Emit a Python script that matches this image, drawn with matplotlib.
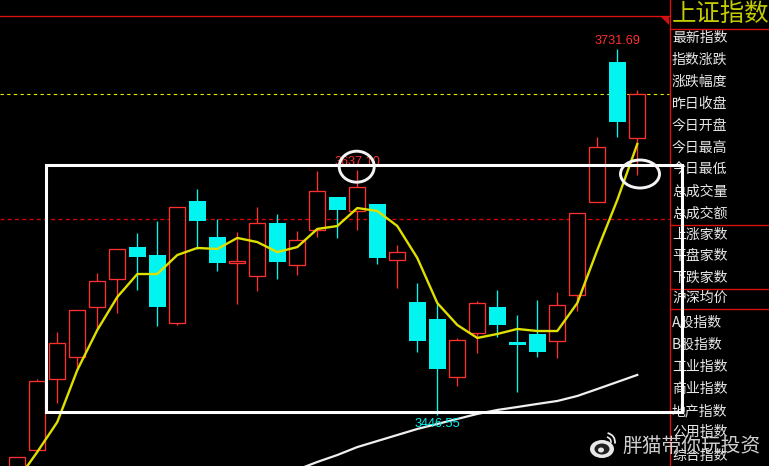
import matplotlib
matplotlib.use("Agg")
import matplotlib.pyplot as plt
from matplotlib.patches import Rectangle, Ellipse, Arc, Polygon

plt.rcParams['font.family'] = ['Noto Sans CJK SC', 'DejaVu Sans']

# candles, oldest first
opens = [3380.0, 3419.3, 3474.6, 3491.8, 3530.7, 3552.5, 3577.4, 3571.2, 3518.2, 3613.3, 3585.2,
         3565.0, 3554.9, 3596.1, 3563.4, 3590.7, 3616.4, 3605.5, 3610.9, 3567.3, 3534.6, 3521.4,
         3476.2, 3510.5, 3530.7, 3503.4, 3509.7, 3504.2, 3540.0, 3612.5, 3721.6, 3662.4]
closes = [3413.9, 3473.1, 3502.7, 3528.4, 3550.9, 3575.9, 3569.7, 3530.7, 3608.6, 3597.7, 3565.0,
          3566.5, 3596.1, 3565.8, 3582.9, 3621.1, 3606.3, 3624.2, 3568.9, 3573.5, 3504.2, 3482.4,
          3505.0, 3533.8, 3516.7, 3501.1, 3495.7, 3532.3, 3603.9, 3655.3, 3674.8, 3696.6]
highs = [3413.9, 3474.6, 3511.2, 3528.4, 3557.2, 3575.9, 3588.4, 3597.7, 3608.6, 3622.6, 3599.3,
         3589.1, 3608.6, 3603.1, 3589.9, 3636.6, 3616.4, 3637.1, 3610.9, 3579.0, 3549.4, 3533.8,
         3506.6, 3535.4, 3544.0, 3524.5, 3536.2, 3542.4, 3603.9, 3663.1, 3731.69, 3699.8]
lows = [3380.0, 3419.3, 3455.9, 3484.0, 3514.4, 3526.0, 3544.0, 3515.9, 3516.7, 3575.9, 3558.8,
        3533.0, 3543.2, 3552.5, 3555.6, 3585.2, 3584.5, 3590.7, 3564.2, 3545.5, 3495.7, 3446.55,
        3469.2, 3494.9, 3507.3, 3464.5, 3491.8, 3491.0, 3527.6, 3612.5, 3663.1, 3633.5]

# moving averages
ma_short = [3395.9, 3417.8, 3441.1, 3481.6, 3512.8, 3538.5, 3556.4, 3556.4, 3571.2, 3576.7, 3575.9,
            3584.5, 3581.3, 3573.5, 3577.4, 3591.5, 3593.8, 3607.8, 3605.5, 3593.8, 3568.9, 3533.8,
            3516.7, 3506.6, 3509.7, 3513.6, 3512.0, 3512.0, 3533.8, 3575.1, 3614.1, 3657.7]
ma_long = [3404.0, 3410.0, 3415.4, 3421.6, 3426.3, 3431.0, 3435.7, 3439.6, 3443.5, 3447.4, 3450.5,
           3452.8, 3455.2, 3457.5, 3461.4, 3466.8, 3472.3, 3477.8]
ma_long_start = 14

prev_close = 3696.6
mid_level = 3599.5

panel_title = "上证指数"
panel_labels = ["最新指数", "指数涨跌", "涨跌幅度", "昨日收盘", "今日开盘", "今日最高", "今日最低",
                "总成交量", "总成交额", "上涨家数", "平盘家数", "下跌家数", "沪深均价", "A股指数",
                "B股指数", "工业指数", "商业指数", "地产指数", "公用指数", "综合指数"]
panel_y = [38, 60, 82, 104, 126, 148, 170, 192, 214, 235, 256, 278, 298, 323, 345, 367, 389, 411, 432, 456]

RED = "#ff3030"
CYAN = "#00f5f0"
THIN = 0.95

fig = plt.figure(figsize=(7.69, 4.66), dpi=100, facecolor="black")

# price axes, fills the whole picture
ax = fig.add_axes([0, 0, 1, 1])
ax.set_facecolor("black")
ax.set_xlim(-0.865, 37.585)
ax.set_ylim(3406.85, 3769.86)
ax.axis("off")

# reference lines
last_x = (669 - 17.3) / 20
ax.plot([-0.865, last_x], [prev_close, prev_close], color="#e8e800", lw=0.8, ls=(0, (3, 3)), zorder=1)
ax.plot([-0.865, last_x], [mid_level, mid_level], color="#e00000", lw=THIN, ls=(0, (3, 2.5)), zorder=1)

# candles
for i in range(len(opens)):
    up = closes[i] >= opens[i]
    color = RED if up else CYAN
    ax.vlines(i, lows[i], highs[i], color=color, lw=THIN, zorder=2)
    bottom = min(opens[i], closes[i])
    height = abs(closes[i] - opens[i])
    if up:
        ax.bar(i, height, 0.8, bottom=bottom, facecolor="black", edgecolor=color, lw=THIN, zorder=3)
    else:
        ax.bar(i, height, 0.84, bottom=bottom, color=color, lw=0, zorder=3)

ax.plot(range(len(ma_short)), ma_short, color="#e0e000", lw=1.7, zorder=4)
ax.plot(range(ma_long_start, ma_long_start + len(ma_long)), ma_long, color="#f0f0f0", lw=1.6, zorder=4)

# extreme values
ax.text(30, 3731.69 + 6, "3731.69", color=RED, fontsize=9.2, family="Liberation Sans", ha="center", va="center", zorder=5)
ax.text(17, 3637.1 + 6.5, "3637.10", color=RED, fontsize=9.2, family="Liberation Sans", ha="center", va="center", zorder=5)
ax.text(21, 3446.55 - 7, "3446.55", color=CYAN, fontsize=9.2, family="Liberation Sans", ha="center", va="center", zorder=5)

# overlay in pixels for the side panel and the hand drawn marks
over = fig.add_axes([0, 0, 1, 1])
over.set_xlim(0, 769)
over.set_ylim(466, 0)
over.axis("off")
over.patch.set_alpha(0)

over.plot([0, 669], [16, 16], color="#e01010", lw=THIN)
over.add_patch(Polygon([[660, 16], [669, 16], [669, 25]], color="#d01010", lw=0))
over.plot([669.7, 669.7], [0, 466], color="#e01010", lw=THIN)
for y in [29, 225, 289, 309]:
    over.plot([670, 769], [y, y], color="#e01010", lw=THIN)

over.text(672, 14, panel_title, color="#c4cc00", fontsize=17.6, ha="left", va="center")
for label, y in zip(panel_labels, panel_y):
    over.text(672, y, label, color="#e8e8e8", fontsize=10, ha="left", va="center")

# white marks
over.add_patch(Rectangle((45.5, 165.3), 636.5, 246.7, fill=False, edgecolor="white", lw=2.2, zorder=6))
over.add_patch(Ellipse((356.7, 166.7), 35, 31, fill=False, edgecolor="#f4f4f4", lw=2.1, zorder=6))
over.add_patch(Ellipse((640, 174), 39, 28, fill=False, edgecolor="#f4f4f4", lw=2.1, zorder=6))

# watermark
over.add_patch(Ellipse((602, 449), 24, 18, color="#e8e8e8", lw=0, zorder=7))
over.add_patch(Ellipse((602, 449), 15, 11, color="#202020", lw=0, zorder=7))
over.add_patch(Ellipse((601, 450), 6, 5, color="#e8e8e8", lw=0, zorder=7))
over.add_patch(Arc((606, 442), 18, 18, theta1=-80, theta2=10, color="#e8e8e8", lw=1.3, zorder=7))
over.add_patch(Arc((606, 442), 10, 10, theta1=-80, theta2=10, color="#e8e8e8", lw=1.2, zorder=7))
over.text(622, 446, "胖猫带你玩投资", color="#d0d0d0", fontsize=14.2, ha="left", va="center", zorder=7)

fig.savefig("out.png", dpi=100, facecolor="black")
